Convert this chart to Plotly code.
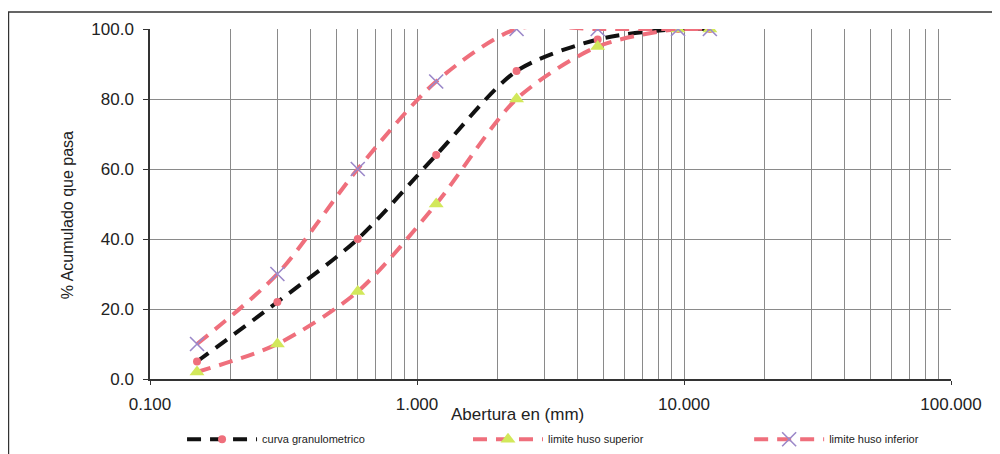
import plotly.graph_objects as go

# Data
abertura = [0.15, 0.3, 0.6, 1.18, 2.36, 4.75, 9.5, 12.5]
curva_granulometrico = [5, 22, 40, 64, 88, 97, 100, 100]
limite_superior = [2, 10, 25, 50, 80, 95, 100, 100]
limite_inferior = [10, 30, 60, 85, 100, 100, 100, 100]

x_tickvals = [0.1, 1, 10, 100]
x_ticktext = ["0.100", "1.000", "10.000", "100.000"]
minor_vals = [m * d for d in [0.1, 1, 10] for m in range(2, 10)]

PINK = "#EF6F7C"
FONT = "Liberation Sans, Arial, sans-serif"
DASH = "14px,9px"

fig = go.Figure()
fig.add_trace(go.Scatter(
    x=abertura, y=curva_granulometrico, name="curva granulometrico", legend="legend",
    mode="lines+markers", line=dict(color="#111111", width=4, dash=DASH, shape="spline", smoothing=0.8),
    marker=dict(symbol="circle", size=8, color=PINK),
))
fig.add_trace(go.Scatter(
    x=abertura, y=limite_superior, name="limite huso superior", legend="legend2",
    mode="lines+markers", line=dict(color=PINK, width=4, dash=DASH, shape="spline", smoothing=0.8),
    marker=dict(symbol="triangle-up", size=13, color="#D2E85A"),
))
fig.add_trace(go.Scatter(
    x=abertura, y=limite_inferior, name="limite huso inferior", legend="legend3",
    mode="lines+markers", line=dict(color=PINK, width=4, dash=DASH, shape="spline", smoothing=0.8),
    marker=dict(symbol="x-thin", size=14, color="#9B88C9", line=dict(width=1.6, color="#9B88C9")),
))

grid_col = "#8a8a8a"
leg_common = dict(orientation="h", y=-0.172, xanchor="left", yanchor="middle",
                  font=dict(size=11, family=FONT, color="#222222"), itemwidth=70,
                  bgcolor="rgba(0,0,0,0)")
fig.update_layout(
    width=992, height=446,
    margin=dict(l=142, r=49, t=21, b=75, autoexpand=False),
    paper_bgcolor="white", plot_bgcolor="white",
    font=dict(family=FONT, color="#222222", size=17),
    showlegend=True,
    legend=dict(x=0.04, **leg_common),
    legend2=dict(x=0.397, **leg_common),
    legend3=dict(x=0.748, **leg_common),
    xaxis=dict(type="log", range=[-1, 2], tickvals=x_tickvals, ticktext=x_ticktext,
               showgrid=True, gridcolor=grid_col, gridwidth=1,
               showline=True, linecolor="#333333", linewidth=1.5,
               ticks="outside", ticklen=4, tickcolor="#333333", ticklabelstandoff=5,
               minor=dict(tickvals=minor_vals, showgrid=True, gridcolor=grid_col, gridwidth=1, ticks=""),
               tickfont=dict(size=17), zeroline=False, automargin=False),
    yaxis=dict(range=[0, 100], dtick=20, tickformat=".1f",
               showgrid=True, gridcolor=grid_col, gridwidth=1,
               showline=True, linecolor="#333333", linewidth=1.5,
               ticks="outside", ticklen=5, tickcolor="#333333", ticklabelstandoff=6,
               tickfont=dict(size=17), zeroline=False, automargin=False),
)

fig.add_annotation(text="% Acumulado que pasa", xref="paper", yref="paper", x=-0.102, y=0.469,
                   textangle=-90, showarrow=False, font=dict(size=16, family=FONT),
                   xanchor="center", yanchor="middle")
fig.add_annotation(text="Abertura en (mm)", xref="paper", yref="paper", x=0.459, y=-0.1,
                   showarrow=False, font=dict(size=17, family=FONT), xanchor="center", yanchor="middle")

# outer chart border
fig.add_shape(type="rect", xref="paper", yref="paper", x0=-0.1767, x1=1.0549, y0=-0.25, y1=1.0486,
              line=dict(color="#333333", width=1.5), fillcolor="rgba(0,0,0,0)", layer="below")

fig.write_html("out.html")
